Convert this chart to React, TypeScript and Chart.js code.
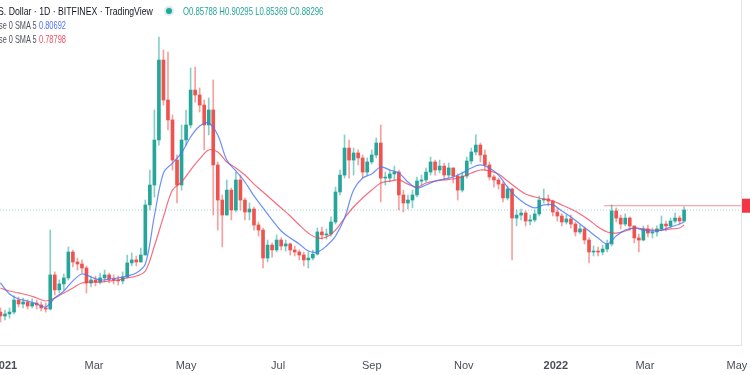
import React, { useEffect, useRef } from 'react';
import { Chart, registerables } from 'chart.js';

Chart.register(...registerables);

// Time axis: day numbers counted from 1 Jan 2021
const tickDays = [0, 59, 120, 181, 243, 304, 365, 424, 485];
const tickLabels = ['2021', 'Mar', 'May', 'Jul', 'Sep', 'Nov', '2022', 'Mar', 'May'];
const yearTicks = ['2021', '2022'];

// Candles (3-day candles), first one starts 29 Dec 2020
const firstCandleDay = -3;
const candleSpanDays = 3;
const firstOpen = 0.237;

const closes = [
  0.212, 0.225, 0.237, 0.313, 0.288, 0.301, 0.275, 0.294, 0.282, 0.263,
  0.256, 0.472, 0.377, 0.415, 0.453, 0.617, 0.554, 0.541, 0.516, 0.421,
  0.440, 0.427, 0.453, 0.472, 0.446, 0.440, 0.434, 0.459, 0.548, 0.567,
  0.554, 0.598, 0.915, 1.041, 1.326, 1.832, 1.579, 1.453, 1.199, 1.041,
  1.326, 1.421, 1.642, 1.611, 1.547, 1.421, 1.516, 1.168, 0.946, 0.851,
  1.009, 0.883, 1.073, 0.946, 0.870, 0.889, 0.788, 0.756, 0.579, 0.661,
  0.630, 0.693, 0.655, 0.668, 0.630, 0.617, 0.598, 0.567, 0.579, 0.604,
  0.744, 0.725, 0.731, 0.807, 0.997, 1.104, 1.275, 1.199, 1.244, 1.212,
  1.123, 1.187, 1.231, 1.307, 1.085, 1.085, 1.111, 1.123, 0.978, 0.927,
  0.946, 0.978, 1.066, 1.073, 1.123, 1.187, 1.136, 1.161, 1.104, 1.149,
  1.098, 1.009, 1.098, 1.193, 1.250, 1.294, 1.231, 1.168, 1.092, 1.073,
  1.047, 0.959, 1.016, 0.832, 0.851, 0.864, 0.813, 0.820, 0.858, 0.946,
  0.953, 0.940, 0.870, 0.845, 0.807, 0.826, 0.794, 0.744, 0.763, 0.693,
  0.617, 0.623, 0.617, 0.636, 0.668, 0.877, 0.832, 0.794, 0.832, 0.782,
  0.706, 0.693, 0.763, 0.737, 0.744, 0.763, 0.794, 0.782, 0.813, 0.832,
  0.813, 0.883,
];

const highs = [
  0.263, 0.250, 0.263, 0.339, 0.332, 0.326, 0.313, 0.320, 0.313, 0.301,
  0.294, 0.756, 0.491, 0.440, 0.478, 0.649, 0.630, 0.579, 0.567, 0.529,
  0.465, 0.465, 0.484, 0.503, 0.484, 0.472, 0.465, 0.491, 0.598, 0.611,
  0.592, 0.642, 0.946, 1.136, 1.516, 1.978, 1.896, 1.883, 1.484, 1.231,
  1.421, 1.516, 1.782, 1.788, 1.655, 1.579, 1.592, 1.706, 1.187, 0.978,
  1.073, 1.022, 1.123, 1.104, 0.959, 0.927, 0.902, 0.807, 0.769, 0.693,
  0.674, 0.725, 0.706, 0.693, 0.674, 0.655, 0.630, 0.617, 0.617, 0.630,
  0.769, 0.775, 0.763, 0.839, 1.028, 1.136, 1.358, 1.326, 1.275, 1.263,
  1.231, 1.212, 1.263, 1.339, 1.421, 1.123, 1.136, 1.161, 1.136, 1.009,
  0.978, 1.009, 1.092, 1.104, 1.149, 1.218, 1.199, 1.199, 1.180, 1.180,
  1.149, 1.111, 1.123, 1.218, 1.275, 1.358, 1.307, 1.263, 1.187, 1.104,
  1.085, 1.060, 1.035, 1.022, 0.883, 0.889, 0.877, 0.851, 0.883, 0.972,
  1.016, 0.978, 0.946, 0.896, 0.858, 0.851, 0.851, 0.807, 0.788, 0.775,
  0.706, 0.655, 0.649, 0.661, 0.693, 0.915, 0.896, 0.851, 0.858, 0.839,
  0.782, 0.731, 0.782, 0.788, 0.769, 0.782, 0.845, 0.813, 0.832, 0.864,
  0.845, 0.903,
];

const lows = [
  0.174, 0.187, 0.199, 0.225, 0.269, 0.263, 0.256, 0.263, 0.256, 0.244,
  0.237, 0.250, 0.345, 0.358, 0.377, 0.440, 0.522, 0.503, 0.484, 0.358,
  0.396, 0.402, 0.415, 0.427, 0.421, 0.415, 0.408, 0.415, 0.453, 0.529,
  0.529, 0.554, 0.598, 0.883, 0.965, 1.294, 1.547, 1.389, 1.136, 0.927,
  1.009, 1.294, 1.402, 1.566, 1.503, 1.263, 1.358, 0.851, 0.756, 0.649,
  0.851, 0.820, 0.870, 0.883, 0.820, 0.820, 0.756, 0.718, 0.516, 0.554,
  0.585, 0.617, 0.630, 0.623, 0.598, 0.592, 0.567, 0.529, 0.516, 0.567,
  0.598, 0.699, 0.699, 0.718, 0.794, 0.978, 1.085, 1.085, 1.104, 1.168,
  1.085, 1.104, 1.174, 1.212, 0.934, 1.041, 1.060, 1.073, 0.883, 0.870,
  0.889, 0.896, 0.965, 1.041, 1.060, 1.104, 1.104, 1.117, 1.073, 1.085,
  1.054, 0.946, 0.997, 1.085, 1.174, 1.231, 1.187, 1.136, 1.073, 1.028,
  1.016, 0.934, 0.946, 0.567, 0.782, 0.820, 0.782, 0.788, 0.807, 0.845,
  0.927, 0.908, 0.845, 0.813, 0.782, 0.794, 0.769, 0.718, 0.731, 0.668,
  0.548, 0.592, 0.592, 0.598, 0.617, 0.655, 0.807, 0.763, 0.782, 0.756,
  0.674, 0.617, 0.687, 0.712, 0.706, 0.718, 0.750, 0.750, 0.769, 0.801,
  0.794, 0.807,
];

// Moving averages read every second candle (plus the last one)
const smaBlue = [
  0.421, 0.351, 0.320, 0.307, 0.288, 0.269, 0.326, 0.370, 0.434, 0.478,
  0.459, 0.440, 0.446, 0.453, 0.465, 0.484, 0.541, 0.845, 1.117, 1.180,
  1.244, 1.345, 1.414, 1.434, 1.358, 1.199, 1.130, 1.060, 0.972, 0.896,
  0.820, 0.750, 0.706, 0.668, 0.623, 0.617, 0.655, 0.718, 0.832, 1.009,
  1.085, 1.111, 1.155, 1.136, 1.117, 1.060, 1.022, 1.041, 1.066, 1.079,
  1.092, 1.117, 1.149, 1.168, 1.149, 1.104, 1.028, 0.965, 0.921, 0.896,
  0.915, 0.915, 0.877, 0.839, 0.794, 0.750, 0.706, 0.668, 0.718, 0.756,
  0.769, 0.756, 0.750, 0.756, 0.775, 0.794, 0.807,
];

const smaRed = [
  0.389, 0.370, 0.358, 0.345, 0.326, 0.307, 0.326, 0.358, 0.389, 0.421,
  0.427, 0.427, 0.434, 0.440, 0.453, 0.465, 0.497, 0.655, 0.839, 1.009,
  1.060, 1.136, 1.206, 1.263, 1.250, 1.187, 1.149, 1.104, 1.047, 0.997,
  0.946, 0.896, 0.845, 0.788, 0.737, 0.706, 0.712, 0.756, 0.832, 0.902,
  0.959, 1.009, 1.054, 1.066, 1.073, 1.047, 1.028, 1.054, 1.066, 1.073,
  1.079, 1.092, 1.117, 1.136, 1.130, 1.111, 1.066, 1.022, 0.984, 0.965,
  0.953, 0.940, 0.915, 0.889, 0.858, 0.820, 0.775, 0.744, 0.737, 0.750,
  0.769, 0.763, 0.756, 0.756, 0.763, 0.769, 0.788,
];

const headerTitle = 'S. Dollar · 1D · BITFINEX · TradingView';
const lastOHLC = ['O0.85788', 'H0.90295', 'L0.85369', 'C0.88296'];
const smaLabel = 'se 0 SMA 5';
const smaBlueLast = '0.80692';
const smaRedLast = '0.78798';
const lastPrice = 0.88296;
const rayLevel = 0.91;
const rayStartDay = 397;

const viewDays = [-3.3, 487.7];
const viewPrice = [0.0285, 2.212];

const UP = '#26a69a';
const DOWN = '#ef5350';
const UP_WICK = 'rgba(38,166,154,0.55)';
const DOWN_WICK = 'rgba(239,83,80,0.55)';
const FONT = "'Liberation Sans', Arial, sans-serif";

const priceLabel = {
  id: 'priceLabel',
  afterDraw(chart: any) {
    const { ctx, chartArea, scales } = chart;
    const y = scales.y.getPixelForValue(rayLevel);
    ctx.save();
    ctx.fillStyle = '#f23645';
    ctx.fillRect(chartArea.right + 1, y - 7, chart.width - chartArea.right, 14);
    ctx.restore();
  },
};

export default function App() {
  const ref = useRef<HTMLCanvasElement>(null);

  useEffect(() => {
    document.body.style.margin = '0';
    const days = closes.map((_, i) => firstCandleDay + candleSpanDays * i);
    const opens = closes.map((_, i) => (i === 0 ? firstOpen : closes[i - 1]));
    const isUp = closes.map((c, i) => c >= opens[i]);
    const smaDays = days.filter((_, i) => i % 2 === 0 || i === days.length - 1);

    const chart = new Chart(ref.current as HTMLCanvasElement, {
      type: 'bar',
      data: {
        datasets: [
          {
            type: 'line',
            data: smaDays.map((d, i) => ({ x: d, y: smaBlue[i] })),
            borderColor: 'rgba(70,115,250,0.8)',
            borderWidth: 1.2,
            pointRadius: 0,
            tension: 0.35,
            order: 0,
          } as any,
          {
            type: 'line',
            data: smaDays.map((d, i) => ({ x: d, y: smaRed[i] })),
            borderColor: 'rgba(242,60,85,0.75)',
            borderWidth: 1.2,
            pointRadius: 0,
            tension: 0.35,
            order: 0,
          } as any,
          {
            type: 'line',
            data: [
              { x: rayStartDay, y: rayLevel },
              { x: viewDays[1], y: rayLevel },
            ],
            borderColor: 'rgba(242,54,69,0.55)',
            borderWidth: 1,
            pointRadius: 0,
            order: 0,
          } as any,
          {
            type: 'line',
            data: [
              { x: viewDays[0], y: lastPrice },
              { x: viewDays[1], y: lastPrice },
            ],
            borderColor: 'rgba(38,166,154,0.45)',
            borderWidth: 1,
            borderDash: [1, 2],
            pointRadius: 0,
            order: 3,
          } as any,
          {
            type: 'bar',
            data: days.map((d, i) => ({ x: d, y: [lows[i], highs[i]] })),
            backgroundColor: isUp.map((u) => (u ? UP_WICK : DOWN_WICK)),
            barThickness: 1,
            grouped: false,
            order: 2,
          } as any,
          {
            type: 'bar',
            data: days.map((d, i) => ({ x: d, y: [opens[i], closes[i]] })),
            backgroundColor: isUp.map((u) => (u ? UP : DOWN)),
            barThickness: 3,
            minBarLength: 1,
            grouped: false,
            order: 1,
          } as any,
        ],
      },
      options: {
        animation: false,
        responsive: false,
        devicePixelRatio: 1,
        layout: { padding: 0 },
        plugins: { legend: { display: false }, tooltip: { enabled: false } },
        scales: {
          x: {
            type: 'linear',
            min: viewDays[0],
            max: viewDays[1],
            offset: false,
            grid: { display: false, drawTicks: false },
            border: { display: true, color: '#e0e3eb' },
            afterBuildTicks: (s: any) => {
              s.ticks = tickDays.map((v) => ({ value: v }));
            },
            afterFit: (s: any) => {
              s.height = 30;
              s.paddingLeft = 0;
              s.paddingRight = 0;
            },
            ticks: {
              autoSkip: false,
              maxRotation: 0,
              minRotation: 0,
              padding: 14,
              color: '#4a4e5a',
              font: (ctx: any) => ({
                family: FONT,
                size: 11,
                weight: yearTicks.includes(tickLabels[ctx.index]) ? 'bold' : 'normal',
              }),
              callback: (_v: any, i: number) => tickLabels[i],
            },
          },
          y: {
            position: 'right',
            min: viewPrice[0],
            max: viewPrice[1],
            grid: { display: false, drawTicks: false },
            ticks: { display: false },
            border: { display: true, color: '#e0e3eb' },
            afterFit: (s: any) => {
              s.width = 9;
            },
          },
        },
      } as any,
      plugins: [priceLabel],
    });
    return () => chart.destroy();
  }, []);

  const text = (left: number, top: number, scale: number, color: string, size = 10.5): React.CSSProperties => ({
    position: 'absolute',
    left,
    top,
    color,
    fontFamily: FONT,
    fontSize: size,
    lineHeight: '14px',
    whiteSpace: 'nowrap',
    pointerEvents: 'none',
    transform: `scaleX(${scale})`,
    transformOrigin: 'left center',
  });

  return (
    <div style={{ position: 'relative', width: 750, height: 375, overflow: 'hidden', background: '#fff' }}>
      <canvas ref={ref} width={750} height={375} style={{ display: 'block' }} />
      <div style={text(-2, 4, 0.83, '#131722')}>{headerTitle}</div>
      <div
        style={{
          position: 'absolute',
          left: 166,
          top: 8,
          width: 6,
          height: 6,
          borderRadius: 3,
          background: UP,
          boxShadow: '0 0 0 2px rgba(38,166,154,0.2)',
        }}
      />
      <div style={text(183, 4, 0.74, UP)}>{lastOHLC.join(' ')}</div>
      <div style={text(-1, 18, 0.7, '#50535e')}>{smaLabel}</div>
      <div style={text(39, 18, 0.71, '#4e73f8')}>{smaBlueLast}</div>
      <div style={text(-1, 32, 0.7, '#50535e')}>{smaLabel}</div>
      <div style={text(39, 32, 0.71, '#f0505f')}>{smaRedLast}</div>
    </div>
  );
}
